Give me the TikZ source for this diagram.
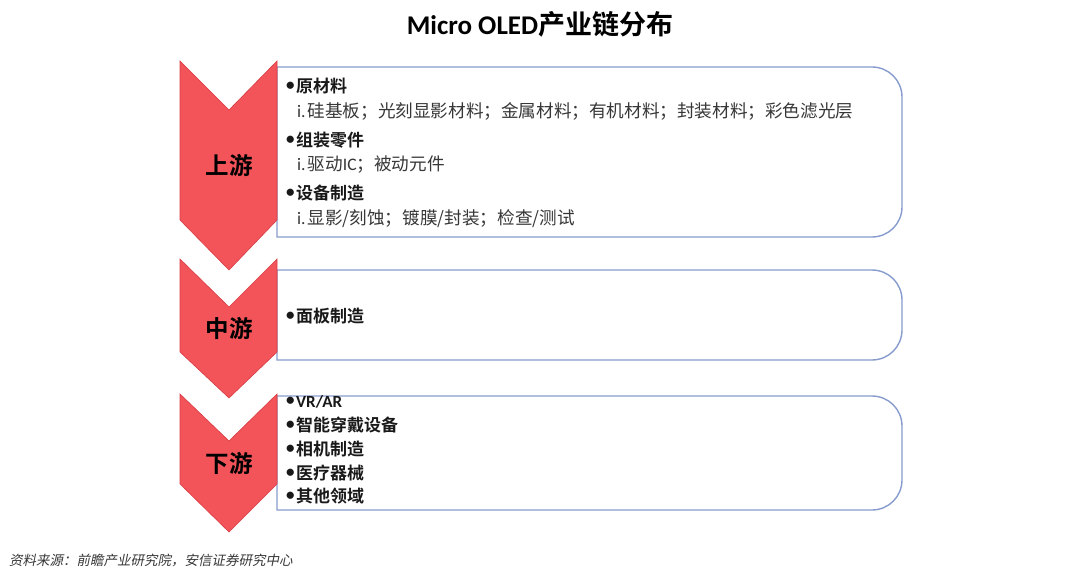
\documentclass[tikz,border=0pt]{standalone}
\usepackage{fontspec}
\setmainfont{Noto Sans CJK SC}[BoldFont={Noto Sans CJK SC Bold}]
\newfontfamily\latinb{Carlito}[BoldFont={Carlito Bold}]
\newfontfamily\srcfont{Noto Sans CJK SC}[FakeSlant=0.2]
\definecolor{chev}{RGB}{242,84,90}
\definecolor{chevdark}{RGB}{215,60,66}
\definecolor{boxline}{RGB}{135,155,205}
\definecolor{txt}{RGB}{25,25,25}
\definecolor{subtxt}{RGB}{55,55,55}
\newcommand{\bul}{\raisebox{1.8pt}{\latinb\bfseries •}\kern1.5pt}
\newcommand{\rom}{{\latinb i.}\kern2pt}
\begin{document}
\begin{tikzpicture}[x=1pt,y=-1pt,
  chevron/.style={fill=chev,draw=chevdark,line width=0.6pt},
  panel/.style={draw=boxline,line width=1.4pt,fill=white},
  stage/.style={font=\fontsize{23.5}{23.5}\selectfont\bfseries,text=black},
  item/.style={anchor=west,font=\fontsize{17}{17}\selectfont\bfseries,text=txt,inner sep=0pt},
  sub/.style={anchor=west,font=\fontsize{17.6}{17.6}\selectfont,text=subtxt,inner sep=0pt}]
\useasboundingbox (0,0) rectangle (1080,575);
% title
\node (title) at (540,24) {\fontsize{27}{27}\selectfont\bfseries{\latinb\bfseries Micro OLED}产业链分布};
% panels (square left, rounded right)
\def\rr{30pt}
\draw[panel] (277,67) -- (872,67) arc[start angle=90,end angle=0,radius=\rr] -- (902,207) arc[start angle=0,end angle=-90,radius=\rr] -- (277,237) -- cycle;
\draw[panel] (277,270) -- (872,270) arc[start angle=90,end angle=0,radius=\rr] -- (902,330) arc[start angle=0,end angle=-90,radius=\rr] -- (277,360) -- cycle;
\draw[panel] (277,396) -- (872,396) arc[start angle=90,end angle=0,radius=\rr] -- (902,480) arc[start angle=0,end angle=-90,radius=\rr] -- (277,510) -- cycle;
% chevrons
\draw[chevron] (180,61) -- (229,110) -- (277,61) -- (277,220) -- (229,270) -- (180,220) -- cycle;
\draw[chevron] (180,259) -- (229,307) -- (277,259) -- (277,352) -- (229,398) -- (180,352) -- cycle;
\draw[chevron] (180,394) -- (229,441) -- (277,394) -- (277,484) -- (229,532) -- (180,484) -- cycle;
\node[stage] (up) at (229,165) {上游};
\node[stage] (mid) at (229,328) {中游};
\node[stage] (down) at (229,463) {下游};
% upstream text
\node[item] (u1) at (286,86) {\bul 原材料};
\node[sub] (u1a) at (297,111) {\rom 硅基板；光刻显影材料；金属材料；有机材料；封装材料；彩色滤光层};
\node[item] (u2) at (286,140) {\bul 组装零件};
\node[sub] (u2a) at (297,165) {\rom 驱动{\latinb IC}；被动元件};
\node[item] (u3) at (286,193) {\bul 设备制造};
\node[sub] (u3a) at (297,219) {\rom 显影/刻蚀；镀膜/封装；检查/测试};
% midstream
\node[item] (m1) at (286,316) {\bul 面板制造};
% downstream
\node[item] (d1) at (286,402) {\bul {\latinb\bfseries VR/AR}};
\node[item] (d2) at (286,425) {\bul 智能穿戴设备};
\node[item] (d3) at (286,449) {\bul 相机制造};
\node[item] (d4) at (286,473) {\bul 医疗器械};
\node[item] (d5) at (286,496) {\bul 其他领域};
% source
\node[anchor=west,inner sep=0pt,text=subtxt,font=\fontsize{13.5}{13.5}\selectfont\srcfont] (src) at (9,560) {资料来源：前瞻产业研究院，安信证券研究中心};
\end{tikzpicture}
\end{document}
